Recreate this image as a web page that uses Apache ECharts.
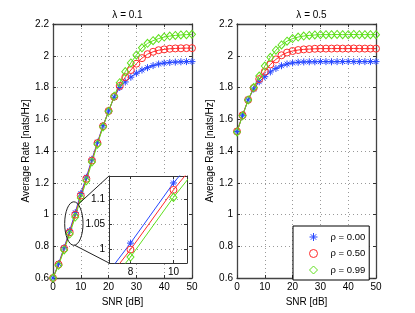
<!DOCTYPE html>
<html><head><meta charset="utf-8">
<script src="https://cdn.jsdelivr.net/npm/echarts@6/dist/echarts.min.js"></script>
<style>html,body{margin:0;padding:0;background:#fff}#c{width:415px;height:313px}</style>
</head><body><div id="c"></div>
<script>
// ---- data ----
const snr = [0,2,4,6,8,10,12,14,16,18,20,22,24,26,28,30,32,34,36,38,40,42,44,46,48,50];
const seriesNames = ['ρ = 0.00','ρ = 0.50','ρ = 0.99'];
const titles = ['λ = 0.1','λ = 0.5'];
// lambda = 0.1
const l01_rho000 = [0.600,0.690,0.792,0.898,1.012,1.133,1.235,1.348,1.455,1.560,1.652,1.738,1.800,1.835,1.865,1.890,1.910,1.925,1.938,1.948,1.954,1.958,1.960,1.962,1.963,1.963];
const l01_rho050 = [0.600,0.685,0.785,0.888,0.999,1.119,1.225,1.340,1.450,1.556,1.652,1.742,1.810,1.865,1.910,1.950,1.985,2.010,2.025,2.035,2.040,2.044,2.046,2.047,2.048,2.048];
const l01_rho099 = [0.600,0.680,0.777,0.877,0.984,1.104,1.213,1.330,1.443,1.552,1.650,1.745,1.830,1.900,1.955,2.005,2.050,2.078,2.095,2.108,2.118,2.124,2.128,2.131,2.133,2.135];
// lambda = 0.5
const l05_rho000 = [1.523,1.625,1.722,1.790,1.836,1.868,1.898,1.920,1.937,1.948,1.955,1.959,1.961,1.962,1.962,1.963,1.963,1.962,1.963,1.963,1.964,1.963,1.963,1.963,1.963,1.963];
const l05_rho050 = [1.523,1.625,1.722,1.797,1.853,1.900,1.945,1.977,2.003,2.020,2.030,2.036,2.040,2.042,2.044,2.045,2.045,2.045,2.046,2.045,2.045,2.046,2.045,2.045,2.045,2.045];
const l05_rho099 = [1.520,1.622,1.722,1.800,1.872,1.935,1.990,2.035,2.068,2.092,2.108,2.118,2.124,2.128,2.131,2.133,2.133,2.133,2.134,2.133,2.133,2.134,2.133,2.133,2.133,2.133];
// axis ticks
const xMain = {min:0, max:50, interval:10};
const yMain = {min:0.6, max:2.2, interval:0.2};
const insetX = {min:7, max:10.63, ticks:[8,10]};
const insetY = {min:0.972, max:1.147, ticks:[1,1.05,1.1]};
const zoomEllipse = {cx:7.5, cy:0.943, rx:3.3, ry:0.137};

// ---- styles ----
const FONT = 'Liberation Sans, Arial, sans-serif';
const colors = ['#2747ff','#ff2a2a','#5fe01c'];
const starPath = 'path://M5 0L5 10M0 5L10 5M1.6 1.6L8.4 8.4M1.6 8.4L8.4 1.6';
const symbols = [starPath, 'circle', 'path://M5 0L10 5L5 10L0 5Z'];
const symSizes = [7, 7, [7,8]];
const gridL = {left:53, top:24, width:139, height:254};
const gridR = {left:237, top:24, width:139, height:254};
const gridI = {left:109, top:176, width:78, height:87};

const chart = echarts.init(document.getElementById('c'), null, {renderer:'canvas'});

function fmt(v){ return String(+v.toFixed(2)); }
const axisLineStyle = {color:'#444', width:1.3};
function mainX(gi, pos){
  return {gridIndex:gi, type:'value', position:pos, min:xMain.min, max:xMain.max, interval:xMain.interval,
    name: pos==='bottom' ? 'SNR [dB]' : '', nameLocation:'middle', nameGap:16,
    nameTextStyle:{fontFamily:FONT, fontSize:10, color:'#000'},
    axisLine:{show:true, onZero:false, lineStyle:axisLineStyle},
    axisTick:{show:true, inside:true, length:3, lineStyle:{color:'#333'}},
    axisLabel:{show: pos==='bottom', fontFamily:FONT, fontSize:10, color:'#000', margin:4, formatter:fmt},
    splitLine:{show: pos==='bottom', lineStyle:{color:'#999', type:[1,3], width:1}}};
}
function mainY(gi, pos){
  return {gridIndex:gi, type:'value', position:pos, min:yMain.min, max:yMain.max, interval:yMain.interval,
    name: pos==='left' ? 'Average Rate [nats/Hz]' : '', nameLocation:'middle', nameGap:21,
    nameTextStyle:{fontFamily:FONT, fontSize:10, color:'#000'},
    axisLine:{show:true, onZero:false, lineStyle:axisLineStyle},
    axisTick:{show:true, inside:true, length:3, lineStyle:{color:'#333'}},
    axisLabel:{show: pos==='left', fontFamily:FONT, fontSize:10, color:'#000', margin:4, formatter:fmt},
    splitLine:{show: pos==='left', lineStyle:{color:'#999', type:[1,3], width:1}}};
}
function insetAxis(dim, pos, spec){
  return {gridIndex:2, type:'value', position:pos, min:spec.min, max:spec.max, z:12,
    axisLine:{show:true, onZero:false, lineStyle:{color:'#333', width:1}},
    axisTick:{show:true, inside:true, length:3, customValues:spec.ticks, lineStyle:{color:'#333'}},
    axisLabel:{show: pos==='bottom'||pos==='left', customValues:spec.ticks, fontFamily:FONT, fontSize:10, color:'#000', margin:4, formatter:fmt},
    splitLine:{show: pos==='bottom'||pos==='left', lineStyle:{color:'#999', type:[1,3], width:1}}};
}

const leftSets = [l01_rho000, l01_rho050, l01_rho099];
const rightSets = [l05_rho000, l05_rho050, l05_rho099];
function mk(arr, k, xi, yi, z){
  return {type:'line', name:seriesNames[k], xAxisIndex:xi, yAxisIndex:yi, z:z,
    data: snr.map((x,i)=>[x, arr[i]]),
    symbol:symbols[k], symbolSize:symSizes[k], showSymbol:true, clip:true,
    lineStyle:{color:colors[k], width:1},
    itemStyle:{color: k===0 ? colors[k] : 'transparent', borderColor:colors[k], borderWidth:1},
    emphasis:{disabled:true}, animation:false, silent:true};
}
const series = [];
leftSets.forEach((a,k)=>series.push(mk(a,k,0,0,2)));
rightSets.forEach((a,k)=>series.push(mk(a,k,2,2,2)));
leftSets.forEach((a,k)=>series.push(mk(a,k,4,4,13)));

chart.setOption({
  animation:false,
  backgroundColor:'#fff',
  title: titles.map((t,i)=>({text:t, left:(i===0? gridL.left+gridL.width/2 : gridR.left+gridR.width/2), top:5, textAlign:'center',
    textStyle:{fontFamily:FONT, fontSize:10, fontWeight:'normal', color:'#000'}})),
  grid:[
    Object.assign({}, gridL, {containLabel:false}),
    Object.assign({}, gridR, {containLabel:false}),
    Object.assign({}, gridI, {containLabel:false, show:true, backgroundColor:'#fff', borderWidth:0, z:10})
  ],
  xAxis:[mainX(0,'bottom'), mainX(0,'top'), mainX(1,'bottom'), mainX(1,'top'), insetAxis('x','bottom',insetX), insetAxis('x','top',insetX)],
  yAxis:[mainY(0,'left'), mainY(0,'right'), mainY(1,'left'), mainY(1,'right'), insetAxis('y','left',insetY), insetAxis('y','right',insetY)],
  legend:{orient:'vertical', left:293, top:226, padding:[6,4,5,16], itemWidth:8, itemHeight:8, itemGap:6.5,
    backgroundColor:'#fff', borderColor:'#000', borderWidth:1, borderRadius:0, z:20,
    textStyle:{fontFamily:FONT, fontSize:9.5, color:'#000', padding:[0,0,0,8]},
    selectedMode:false,
    data: seriesNames.map((n,k)=>({name:n, icon:symbols[k],
      itemStyle:{color: k===0 ? colors[k] : 'transparent', borderColor:colors[k], borderWidth:1}}))},
  series: series
});

// zoom ellipse + connector lines (computed through the axes)
const c = chart.convertToPixel({gridIndex:0}, [zoomEllipse.cx, zoomEllipse.cy]);
const e = chart.convertToPixel({gridIndex:0}, [zoomEllipse.cx + zoomEllipse.rx, zoomEllipse.cy + zoomEllipse.ry]);
const rx = Math.abs(e[0]-c[0]), ry = Math.abs(e[1]-c[1]);
const tl = chart.convertToPixel({gridIndex:2}, [insetX.min, insetY.max]);
const bl = chart.convertToPixel({gridIndex:2}, [insetX.min, insetY.min]);
function onE(a){ const t=a*Math.PI/180; return [c[0]+rx*Math.cos(t), c[1]+ry*Math.sin(t)]; }
const p1 = onE(-62), p2 = onE(85);
chart.setOption({graphic:[
  {type:'ellipse', shape:{cx:c[0], cy:c[1], rx:rx, ry:ry}, style:{fill:null, stroke:'#222', lineWidth:1}, z:8, silent:true},
  {type:'line', shape:{x1:p1[0], y1:p1[1], x2:tl[0], y2:tl[1]}, style:{stroke:'#222', lineWidth:1}, z:8, silent:true},
  {type:'line', shape:{x1:p2[0], y1:p2[1], x2:bl[0], y2:bl[1]}, style:{stroke:'#222', lineWidth:1}, z:8, silent:true}
]});
</script></body></html>
